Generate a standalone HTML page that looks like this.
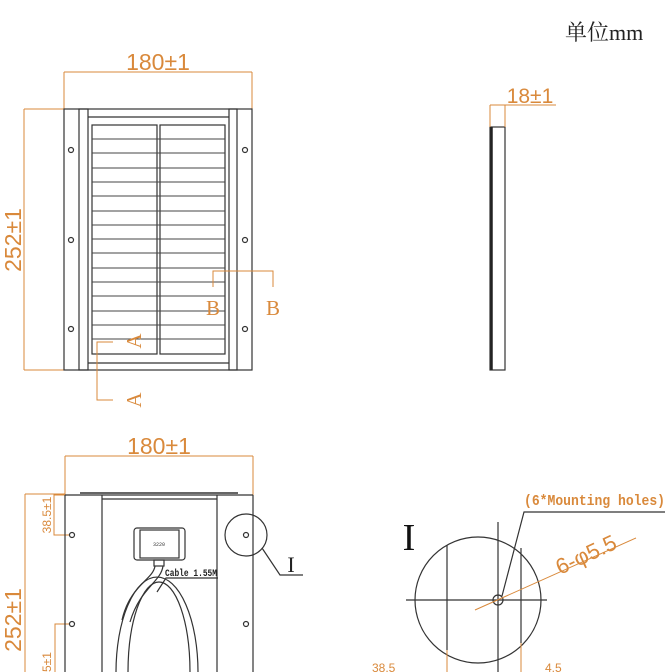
<!DOCTYPE html>
<html><head><meta charset="utf-8"><style>
html,body{margin:0;padding:0;background:#fff;width:672px;height:672px;overflow:hidden}
svg{display:block;overflow:hidden}
.o{stroke:#d9893b;fill:none;stroke-width:1}
.k{stroke:#333;fill:none;stroke-width:1.2}
.t{fill:#d9893b;font-family:"Liberation Sans",sans-serif;font-weight:300}
.s{fill:#d9893b;font-family:"Liberation Serif",serif;font-size:21px}
</style></head><body>
<svg width="672" height="672" viewBox="0 0 672 672" xmlns="http://www.w3.org/2000/svg">
<text x="565" y="40" font-family="'Liberation Serif','Noto Serif CJK SC',serif" font-size="22" fill="#222">单位mm</text>

<line class="o" x1="64" y1="72" x2="252" y2="72"/>
<line class="o" x1="64" y1="72" x2="64" y2="109"/>
<line class="o" x1="252" y1="72" x2="252" y2="109"/>
<text class="t" x="158" y="70" font-size="23" text-anchor="middle">180±1</text>
<line class="o" x1="24" y1="109" x2="64" y2="109"/>
<line class="o" x1="24" y1="370" x2="64" y2="370"/>
<line class="o" x1="24" y1="109" x2="24" y2="370"/>
<text class="t" font-size="23" text-anchor="middle" transform="translate(21,240) rotate(-90)">252±1</text>

<rect class="k" x="64" y="109" width="188" height="261"/>
<rect class="k" x="79" y="109" width="9" height="261"/>
<rect class="k" x="229" y="109" width="8" height="261"/>
<line class="k" x1="88" y1="117" x2="229" y2="117"/>
<line class="k" x1="88" y1="363" x2="229" y2="363"/>
<rect class="k" x="92" y="125" width="65" height="229" stroke-width="0.9"/>
<rect class="k" x="160" y="125" width="65" height="229" stroke-width="0.9"/>
<g stroke="#444" stroke-width="0.9">
<line x1="92" y1="139" x2="225" y2="139"/><line x1="92" y1="153" x2="225" y2="153"/>
<line x1="92" y1="168" x2="225" y2="168"/><line x1="92" y1="182" x2="225" y2="182"/>
<line x1="92" y1="196" x2="225" y2="196"/><line x1="92" y1="211" x2="225" y2="211"/>
<line x1="92" y1="225" x2="225" y2="225"/><line x1="92" y1="239" x2="225" y2="239"/>
<line x1="92" y1="253" x2="225" y2="253"/><line x1="92" y1="268" x2="225" y2="268"/>
<line x1="92" y1="282" x2="225" y2="282"/><line x1="92" y1="296" x2="225" y2="296"/>
<line x1="92" y1="311" x2="225" y2="311"/><line x1="92" y1="325" x2="225" y2="325"/>
<line x1="92" y1="339" x2="225" y2="339"/>
</g>
<g class="k" stroke-width="1">
<circle cx="71" cy="150" r="2.5"/><circle cx="71" cy="240" r="2.5"/><circle cx="71" cy="329" r="2.5"/>
<circle cx="245" cy="150" r="2.5"/><circle cx="245" cy="240" r="2.5"/><circle cx="245" cy="329" r="2.5"/>
</g>
<polyline class="o" points="213,287 213,271 273,271 273,287"/>
<text class="s" x="213" y="315" text-anchor="middle">B</text>
<text class="s" x="273" y="315" text-anchor="middle">B</text>
<polyline class="o" points="113,342 97,342 97,400 113,400"/>
<text class="s" text-anchor="middle" transform="translate(141,341) rotate(-90)">A</text>
<text class="s" text-anchor="middle" transform="translate(141,400) rotate(-90)">A</text>

<rect x="490" y="127" width="15" height="243" fill="none" stroke="#333" stroke-width="1.2"/>
<line x1="491.5" y1="127" x2="491.5" y2="370" stroke="#222" stroke-width="2.5"/>
<line class="o" x1="490" y1="105" x2="556" y2="105"/>
<line class="o" x1="490" y1="105" x2="490" y2="127"/>
<line class="o" x1="505" y1="105" x2="505" y2="127"/>
<text class="t" x="530" y="103" font-size="21" text-anchor="middle">18±1</text>

<line class="o" x1="65" y1="456" x2="253" y2="456"/>
<line class="o" x1="65" y1="456" x2="65" y2="495"/>
<line class="o" x1="253" y1="456" x2="253" y2="495"/>
<text class="t" x="159" y="454" font-size="23" text-anchor="middle">180±1</text>
<line class="o" x1="25" y1="494" x2="65" y2="494"/>
<line class="o" x1="25" y1="494" x2="25" y2="672"/>
<text class="t" font-size="23" text-anchor="middle" transform="translate(21,620) rotate(-90)">252±1</text>
<polyline class="o" points="65,495 54,495 54,535 70,535"/>
<text class="t" font-size="12" text-anchor="middle" transform="translate(51,515) rotate(-90)">38.5±1</text>
<polyline class="o" points="70,624 55,624 55,672"/>
<text class="t" font-size="12" transform="translate(51,672) rotate(-90)">5±1</text>

<line x1="80" y1="493" x2="238" y2="493" stroke="#333" stroke-width="1.5"/>
<line class="k" x1="65" y1="495" x2="253" y2="495"/>
<line class="k" x1="65" y1="495" x2="65" y2="672"/>
<line class="k" x1="253" y1="495" x2="253" y2="672"/>
<line class="k" x1="102" y1="495" x2="102" y2="672"/>
<line class="k" x1="217" y1="495" x2="217" y2="672"/>
<line class="k" x1="102" y1="499" x2="217" y2="499"/>
<g class="k" stroke-width="1">
<circle cx="72" cy="535" r="2.5"/><circle cx="72" cy="624" r="2.5"/>
<circle cx="246" cy="535" r="2.5"/><circle cx="246" cy="624" r="2.5"/>
</g>
<rect class="k" x="134" y="528" width="51" height="32" rx="3"/>
<rect class="k" x="140" y="530" width="39" height="28"/>
<text x="159" y="546" font-size="5" text-anchor="middle" font-family="'Liberation Mono',monospace" fill="#333">3220</text>
<rect class="k" x="154" y="560" width="10" height="6"/>
<g class="k" stroke-width="1">
<path d="M116,672 A41,95 0 0 1 198,672"/>
<path d="M128,672 A31,90 0 0 1 190,672"/>
<path d="M155,566 C153,580 130,585 122,620"/>
<path d="M163,566 C161,582 140,588 130,622"/>
</g>
<polyline class="k" stroke-width="1" points="157,592 166,578 218,578"/>
<text x="165" y="576" font-size="10" font-family="'Liberation Mono',monospace" font-weight="bold" fill="#222" textLength="52" lengthAdjust="spacingAndGlyphs">Cable 1.55M</text>
<circle class="k" cx="246" cy="535" r="21"/>
<polyline class="k" stroke-width="1" points="262,548 280,575 303,575"/>
<text x="291" y="572" font-size="22" text-anchor="middle" font-family="'Liberation Serif',serif" fill="#222">I</text>

<text x="409" y="550" font-size="38" text-anchor="middle" font-family="'Liberation Serif',serif" fill="#111">I</text>
<circle class="k" cx="478" cy="600" r="63"/>
<line class="k" x1="406" y1="600" x2="547" y2="600"/>
<line class="k" x1="498" y1="522" x2="498" y2="672"/>
<line class="k" x1="447" y1="545" x2="447" y2="650"/>
<line class="k" x1="521" y1="548" x2="521" y2="643"/>
<line class="o" x1="447" y1="650" x2="447" y2="672"/>
<line class="o" x1="521" y1="643" x2="521" y2="672"/>
<circle class="k" cx="498" cy="600" r="5"/>
<polyline class="k" stroke-width="1" points="502,596 524,512 665,512"/>
<text x="524" y="505" font-size="15" font-family="'Liberation Mono',monospace" font-weight="bold" fill="#d9893b" textLength="141" lengthAdjust="spacingAndGlyphs">(6*Mounting holes)</text>
<line class="o" x1="475" y1="610" x2="636" y2="538"/>
<text class="t" font-size="22" transform="translate(560,575) rotate(-25)">6-φ5.5</text>
<text class="t" x="372" y="672" font-size="12">38.5</text>
<text class="t" x="545" y="672" font-size="12">4.5</text>
</svg>
</body></html>
